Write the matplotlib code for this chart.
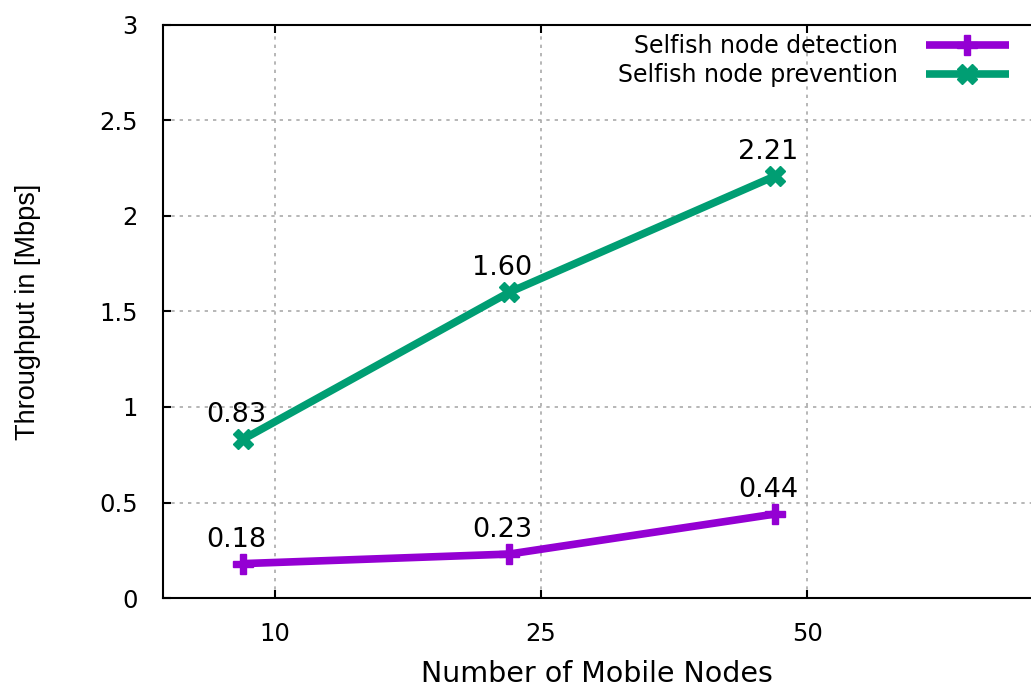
import matplotlib.pyplot as plt

nodes = ['10', '25', '50']
detection = [0.18, 0.23, 0.44]
prevention = [0.83, 1.60, 2.21]
labels_det = ['0.18', '0.23', '0.44']
labels_prev = ['0.83', '1.60', '2.21']

plt.rcParams['font.family'] = ['DejaVu Sans']

fig = plt.figure(figsize=(10.31, 6.88), dpi=100)
ax = fig.add_axes([0.158, 0.1308, 0.842, 0.8329])

pos = list(range(len(nodes)))
shift = -0.12  # points sit a bit left of the ticks, like in the original
xs = [p + shift for p in pos]

ax.plot(xs, detection, color='#9400D3', lw=5.5, marker='P', ms=14,
        label='Selfish node detection', solid_capstyle='butt')
ax.plot(xs, prevention, color='#009E73', lw=5.5, marker='X', ms=15,
        label='Selfish node prevention', solid_capstyle='butt')

for x, y, t in zip(xs, detection, labels_det):
    ax.annotate(t, (x, y), xytext=(-5, 8), textcoords='offset points',
                ha='center', va='bottom', fontsize=19.5)
for x, y, t in zip(xs, prevention, labels_prev):
    ax.annotate(t, (x, y), xytext=(-5, 8), textcoords='offset points',
                ha='center', va='bottom', fontsize=19.5)

ax.set_xlim(-0.42, 2.84)
ax.set_ylim(0, 3)
ax.set_xticks(pos)
ax.set_xticklabels(nodes)
ax.set_yticks([0, 0.5, 1, 1.5, 2, 2.5, 3])
ax.set_yticklabels(['0', '0.5', '1', '1.5', '2', '2.5', '3'])
ax.tick_params(direction='in', length=6, width=1.5, labelsize=17.5,
               top=True)
ax.tick_params(axis='y', pad=18)
ax.tick_params(axis='x', pad=17)
ax.grid(True, color='#aaaaaa', ls=(0, (2, 3)), lw=1.2)
ax.spines['right'].set_visible(False)
for s in ['left', 'bottom', 'top']:
    ax.spines[s].set_linewidth(1.5)

ax.set_xlabel('Number of Mobile Nodes', fontsize=20.5, labelpad=10)
ax.set_ylabel('Throughput in [Mbps]', fontsize=19.5, labelpad=42,
              family='Liberation Sans')

ax.legend(loc='upper right', bbox_to_anchor=(0.985, 1.0), frameon=False,
          markerfirst=False, fontsize=17, handlelength=3.5,
          labelspacing=0.2, borderaxespad=0, handletextpad=1.2)

fig.savefig('out.png', dpi=100)
